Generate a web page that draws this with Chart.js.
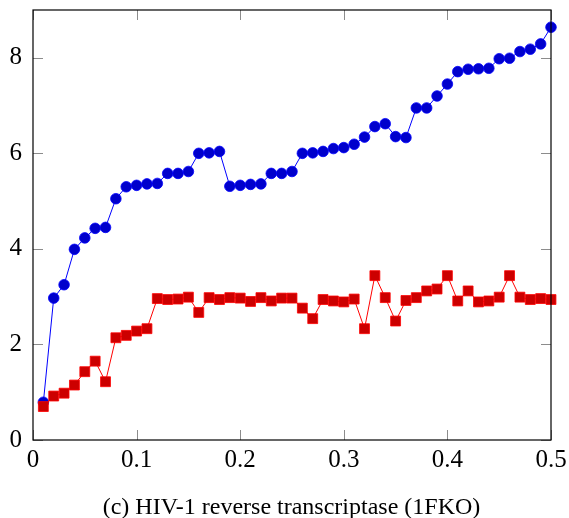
<!DOCTYPE html>
<html>
<head>
<meta charset="utf-8">
<script src="https://cdn.jsdelivr.net/npm/chart.js@4/dist/chart.umd.min.js"></script>
<style>
  html, body { margin: 0; padding: 0; background: #fff; overflow: hidden; }
  #wrap { width: 569px; height: 518px; position: relative; }
  #caption {
    position: absolute; left: 14px; width: 555px; top: 492px;
    line-height: 28px; text-align: center; white-space: nowrap;
    font-family: 'Liberation Serif', serif; font-size: 24px; color: #000;
  }
</style>
</head>
<body>
<div id="wrap">
  <canvas id="c"></canvas>
  <div id="caption"></div>
</div>
<script>
// Noise level on the x axis
const xValues = [0.01,0.02,0.03,0.04,0.05,0.06,0.07,0.08,0.09,0.10,
                 0.11,0.12,0.13,0.14,0.15,0.16,0.17,0.18,0.19,0.20,
                 0.21,0.22,0.23,0.24,0.25,0.26,0.27,0.28,0.29,0.30,
                 0.31,0.32,0.33,0.34,0.35,0.36,0.37,0.38,0.39,0.40,
                 0.41,0.42,0.43,0.44,0.45,0.46,0.47,0.48,0.49,0.50];

// Blue circles
const blueValues = [0.79,2.97,3.25,3.99,4.23,4.43,4.45,5.05,5.30,5.33,
                    5.36,5.37,5.58,5.58,5.62,6.00,6.01,6.04,5.31,5.33,
                    5.35,5.36,5.58,5.58,5.62,6.00,6.01,6.04,6.10,6.12,
                    6.19,6.34,6.56,6.62,6.35,6.33,6.95,6.95,7.20,7.45,
                    7.71,7.76,7.77,7.78,7.98,7.99,8.13,8.18,8.29,8.64];

// Red squares
const redValues = [0.70,0.92,0.98,1.15,1.43,1.65,1.22,2.14,2.19,2.28,
                   2.33,2.96,2.94,2.95,2.99,2.67,2.98,2.94,2.98,2.97,
                   2.90,2.98,2.91,2.97,2.97,2.76,2.54,2.94,2.91,2.89,
                   2.95,2.33,3.44,2.98,2.49,2.92,2.98,3.12,3.16,3.44,
                   2.91,3.12,2.89,2.91,2.99,3.44,2.99,2.94,2.96,2.94];

const xTicks = [0, 0.1, 0.2, 0.3, 0.4, 0.5];
const yTicks = [0, 2, 4, 6, 8];
const caption = '(c) HIV-1 reverse transcriptase (1FKO)';

document.getElementById('caption').textContent = caption;

const toPoints = vals => vals.map((v, i) => ({ x: xValues[i], y: v }));

// Black frame with short inward tick marks on all four sides
const framePlugin = {
  id: 'frame',
  afterDatasetsDraw(chart) {
    const { ctx, chartArea: a, scales } = chart;
    const len = 10;
    ctx.save();
    ctx.strokeStyle = '#8c8c8c';
    ctx.lineWidth = 1;
    ctx.beginPath();
    xTicks.forEach(t => {
      const px = Math.round(scales.x.getPixelForValue(t)) + 0.5;
      ctx.moveTo(px, a.bottom); ctx.lineTo(px, a.bottom - len);
      ctx.moveTo(px, a.top); ctx.lineTo(px, a.top + len);
    });
    yTicks.forEach(t => {
      const py = Math.round(scales.y.getPixelForValue(t)) + 0.5;
      ctx.moveTo(a.left, py); ctx.lineTo(a.left + len, py);
      ctx.moveTo(a.right, py); ctx.lineTo(a.right - len, py);
    });
    ctx.stroke();
    ctx.strokeStyle = '#000';
    ctx.lineWidth = 1.2;
    ctx.strokeRect(a.left, a.top, a.right - a.left, a.bottom - a.top);
    ctx.restore();
  }
};

new Chart(document.getElementById('c'), {
  type: 'line',
  data: {
    datasets: [
      {
        data: toPoints(blueValues),
        borderColor: '#0000ff',
        backgroundColor: '#0000cc',
        pointBorderColor: '#0000ff',
        pointBackgroundColor: '#0000cc',
        borderWidth: 1,
        pointStyle: 'circle',
        pointRadius: 5.3,
        pointBorderWidth: 0.8,
        order: 2,
        clip: false
      },
      {
        data: toPoints(redValues),
        borderColor: '#ff0000',
        backgroundColor: '#cc0000',
        pointBorderColor: '#ff0000',
        pointBackgroundColor: '#cc0000',
        borderWidth: 1,
        pointStyle: 'rect',
        pointRadius: 7,
        pointBorderWidth: 0.8,
        order: 1,
        clip: false
      }
    ]
  },
  options: {
    responsive: true,
    maintainAspectRatio: false,
    animation: false,
    layout: { padding: { top: 10, right: 18, left: 0, bottom: 45 } },
    plugins: {
      legend: { display: false },
      tooltip: { enabled: false },
      title: { display: false }
    },
    scales: {
      x: {
        type: 'linear',
        min: 0, max: 0.5,
        afterBuildTicks: s => { s.ticks = xTicks.map(v => ({ value: v })); },
        afterFit: s => { s.height = 33; s.paddingLeft = 0; s.paddingRight = 0; },
        grid: { display: false, drawTicks: false },
        border: { display: false },
        ticks: {
          color: '#000',
          padding: 5,
          maxRotation: 0,
          font: { family: 'Liberation Serif', size: 25 },
          callback: v => String(v)
        }
      },
      y: {
        type: 'linear',
        min: 0, max: 9,
        afterBuildTicks: s => { s.ticks = yTicks.map(v => ({ value: v })); },
        afterFit: s => { s.width = 33; s.paddingTop = 0; s.paddingBottom = 0; },
        grid: { display: false, drawTicks: false },
        border: { display: false },
        ticks: {
          color: '#000',
          padding: 11,
          font: { family: 'Liberation Serif', size: 25 },
          callback: v => String(v)
        }
      }
    }
  },
  plugins: [framePlugin]
});
</script>
</body>
</html>
